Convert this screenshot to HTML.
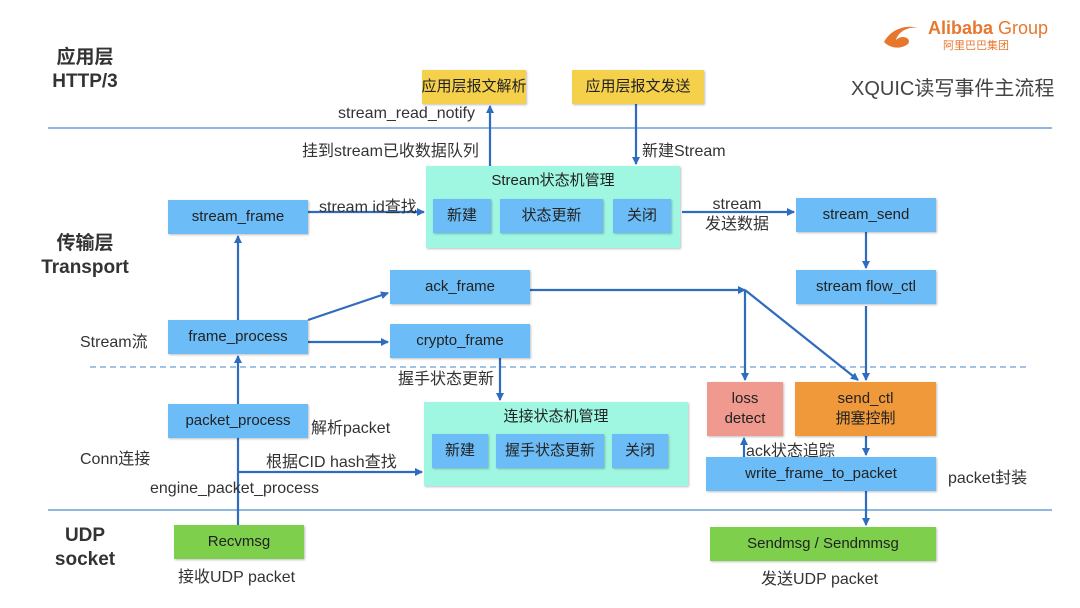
<!DOCTYPE html>
<html><head><meta charset="utf-8"><style>
body{margin:0;width:1080px;height:608px;background:#fff;position:relative;overflow:hidden;font-family:"Liberation Sans","Noto Sans CJK SC",sans-serif;color:#333}
.b{position:absolute;display:flex;align-items:center;justify-content:center;font-size:15px;color:#222;box-shadow:1px 1px 2px rgba(0,0,0,.25);text-align:center;line-height:20px;white-space:nowrap}
.blue{background:#6cbcf7}.y{background:#f5d04a}.m{background:#9ff7e2}.g{background:#7dcf4c}
.t{position:absolute;font-size:16px;color:#333;white-space:nowrap}
.h{position:absolute;font-weight:bold;font-size:19px;color:#333;text-align:center;line-height:24px}
svg{position:absolute;left:0;top:0}
</style></head><body>
<svg width="1080" height="608">
<defs><marker id="a" markerWidth="8" markerHeight="8" refX="7" refY="4" orient="auto" markerUnits="userSpaceOnUse"><path d="M0,0 L8,4 L0,8z" fill="#2f6bbf"/></marker></defs>
<line x1="48" y1="128" x2="1052" y2="128" stroke="#6a9fd6" stroke-width="1.5"/>
<line x1="90" y1="367" x2="1030" y2="367" stroke="#6a9fd6" stroke-width="1.2" stroke-dasharray="6,4"/>
<line x1="48" y1="510" x2="1052" y2="510" stroke="#6a9fd6" stroke-width="1.5"/>
<path d="M884,42 C890,30 905,24 918,28 C908,26 898,32 896,40 C902,34 912,38 908,44 C900,50 890,48 884,42z" fill="#e8772e"/>
<g stroke="#2f6bbf" stroke-width="2.2" fill="none" marker-end="url(#a)">
<line x1="490" y1="166" x2="490" y2="106"/>
<line x1="636" y1="104" x2="636" y2="164"/>
<line x1="308" y1="212" x2="424" y2="212"/>
<line x1="682" y1="212" x2="794" y2="212"/>
<line x1="866" y1="232" x2="866" y2="268"/>
<line x1="238" y1="320" x2="238" y2="236"/>
<line x1="308" y1="320" x2="388" y2="293"/>
<line x1="308" y1="342" x2="388" y2="342"/>
<line x1="530" y1="290" x2="745" y2="290"/>
<line x1="745" y1="290" x2="745" y2="380"/>
<line x1="745" y1="290" x2="858" y2="380"/>
<line x1="866" y1="306" x2="866" y2="380"/>
<line x1="500" y1="358" x2="500" y2="400"/>
<line x1="238" y1="404" x2="238" y2="356"/>
<line x1="238" y1="472" x2="422" y2="472"/>
<line x1="744" y1="457" x2="744" y2="438"/>
<line x1="866" y1="436" x2="866" y2="455"/>
<line x1="866" y1="491" x2="866" y2="525"/>
</g>
<line x1="238" y1="525" x2="238" y2="438" stroke="#2f6bbf" stroke-width="2.2"/>
</svg>
<div class="h" style="left:40px;top:46px;width:90px">应用层<br>HTTP/3</div>
<div class="h" style="left:30px;top:232px;width:110px">传输层<br>Transport</div>
<div class="h" style="left:40px;top:524px;width:90px">UDP<br>socket</div>
<div class="t" style="left:80px;top:328px">Stream流</div>
<div class="t" style="left:80px;top:445px">Conn连接</div>
<div style="position:absolute;left:928px;top:18px;color:#e8772e;font-size:18px;font-weight:bold">Alibaba <span style="font-weight:normal">Group</span></div>
<div style="position:absolute;left:943px;top:37px;color:#e8772e;font-size:11px">阿里巴巴集团</div>
<div class="t" style="left:851px;top:72px;font-size:20px;color:#444">XQUIC读写事件主流程</div>
<div class="b y" style="left:422px;top:70px;width:104px;height:34px">应用层报文解析</div>
<div class="b y" style="left:572px;top:70px;width:132px;height:34px">应用层报文发送</div>
<div class="t" style="left:338px;top:105px">stream_read_notify</div>
<div class="t" style="left:302px;top:137px">挂到stream已收数据队列</div>
<div class="t" style="left:642px;top:137px">新建Stream</div>
<div class="b m" style="left:426px;top:166px;width:254px;height:82px;align-items:flex-start;padding-top:5px;box-sizing:border-box">Stream状态机管理</div>
<div class="b blue" style="left:433px;top:199px;width:58px;height:34px">新建</div>
<div class="b blue" style="left:500px;top:199px;width:103px;height:34px">状态更新</div>
<div class="b blue" style="left:613px;top:199px;width:58px;height:34px">关闭</div>
<div class="t" style="left:319px;top:193px">stream id查找</div>
<div class="t" style="left:705px;top:195px;line-height:20px;text-align:center">stream<br>发送数据</div>
<div class="b blue" style="left:168px;top:200px;width:140px;height:34px">stream_frame</div>
<div class="b blue" style="left:796px;top:198px;width:140px;height:34px">stream_send</div>
<div class="b blue" style="left:390px;top:270px;width:140px;height:34px">ack_frame</div>
<div class="b blue" style="left:796px;top:270px;width:140px;height:34px">stream flow_ctl</div>
<div class="b blue" style="left:168px;top:320px;width:140px;height:34px">frame_process</div>
<div class="b blue" style="left:390px;top:324px;width:140px;height:34px">crypto_frame</div>
<div class="t" style="left:398px;top:365px">握手状态更新</div>
<div class="b" style="left:707px;top:382px;width:76px;height:54px;background:#f0998e">loss<br>detect</div>
<div class="b" style="left:795px;top:382px;width:141px;height:54px;background:#f0993a">send_ctl<br>拥塞控制</div>
<div class="b blue" style="left:168px;top:404px;width:140px;height:34px">packet_process</div>
<div class="t" style="left:311px;top:414px">解析packet</div>
<div class="b m" style="left:424px;top:402px;width:264px;height:84px;align-items:flex-start;padding-top:5px;box-sizing:border-box">连接状态机管理</div>
<div class="b blue" style="left:432px;top:434px;width:56px;height:34px">新建</div>
<div class="b blue" style="left:496px;top:434px;width:108px;height:34px">握手状态更新</div>
<div class="b blue" style="left:612px;top:434px;width:56px;height:34px">关闭</div>
<div class="t" style="left:266px;top:448px">根据CID hash查找</div>
<div class="t" style="left:150px;top:480px">engine_packet_process</div>
<div class="t" style="left:746px;top:437px">ack状态追踪</div>
<div class="b blue" style="left:706px;top:457px;width:230px;height:34px">write_frame_to_packet</div>
<div class="t" style="left:948px;top:464px">packet封装</div>
<div class="b g" style="left:174px;top:525px;width:130px;height:34px">Recvmsg</div>
<div class="t" style="left:178px;top:563px">接收UDP packet</div>
<div class="b g" style="left:710px;top:527px;width:226px;height:34px">Sendmsg / Sendmmsg</div>
<div class="t" style="left:761px;top:565px">发送UDP packet</div>
</body></html>
